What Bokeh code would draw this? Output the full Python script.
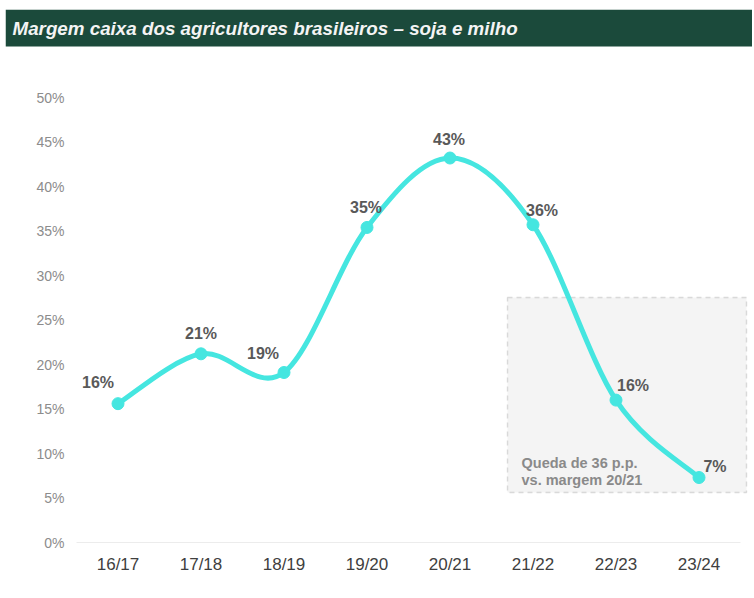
import numpy as np
from bokeh.plotting import figure
from bokeh.models import BoxAnnotation, Label, FixedTicker, Range1d
from bokeh.core.properties import value
from bokeh.embed import file_html
from bokeh.resources import INLINE

# ---------------- data ----------------
title_text = "Margem caixa dos agricultores brasileiros \u2013 soja e milho"
seasons = ["16/17", "17/18", "18/19", "19/20", "20/21", "21/22", "22/23", "23/24"]
margins = [15.6, 21.2, 19.1, 35.4, 43.2, 35.7, 16.0, 7.3]  # % cash margin
margin_labels = ["16%", "21%", "19%", "35%", "43%", "36%", "16%", "7%"]
y_ticks = [0, 5, 10, 15, 20, 25, 30, 35, 40, 45, 50]
y_tick_labels = ["0%", "5%", "10%", "15%", "20%", "25%", "30%", "35%", "40%", "45%", "50%"]
note_lines = ["Queda de 36 p.p.", "vs. margem 20/21"]

# ---------------- layout / styles ----------------
W, H = 752, 596
# the plotting area of the chart on the canvas (pixels)
CL, CR, CT, CB = 76, 740, 97, 542
# the frame covers the title bar as well
FL, FT = 5, 9
GREEN = "#1b4a3b"
CYAN = "#45e6e0"
SANS = "'Liberation Sans', Arial, sans-serif"

label_dx = [-20, 0, -21, -1, -1, 9, 17, 16]
label_dy = [-21, -20, -19, -20, -19, -14, -15, -11]

n = len(seasons)
x_lo, x_hi = -0.5, n - 0.5
y_lo, y_hi = 0.0, 50.0
ppx = (CR - CL) / (x_hi - x_lo)
ppy = (CB - CT) / (y_hi - y_lo)


def cx(px_):
    return x_lo + (px_ - CL) / ppx


def cy(py_):
    return y_lo + (CB - py_) / ppy


p = figure(width=W, height=H, toolbar_location=None, output_backend="svg",
           x_range=Range1d(cx(FL), cx(W)), y_range=Range1d(y_lo, cy(FT)),
           min_border_left=FL, min_border_right=0, min_border_top=FT,
           min_border_bottom=H - CB, outline_line_color=None,
           background_fill_color="white", border_fill_color="white")
p.grid.visible = False

# title bar
p.add_layout(BoxAnnotation(bottom=cy(46), fill_color=GREEN, fill_alpha=1.0,
                           line_color=None))
p.add_layout(Label(x=cx(12), y=cy(27.5), text=title_text, text_baseline="middle",
                   text_color="#f4f4f4", text_font=SANS,
                   text_font_style="bold italic", text_font_size="18.8px"))

xs = np.arange(n, dtype=float)
ys = np.array(margins, dtype=float)
px = np.concatenate([[xs[0]], xs, [xs[-1]]])
py = np.concatenate([[ys[0]], ys, [ys[-1]]])
k = 1.0 / 6.0
i = np.arange(n - 1)
x0, y0 = xs[:-1], ys[:-1]
x1, y1 = xs[1:], ys[1:]
cx0 = x0 + (px[i + 2] - px[i]) * k
cy0 = y0 + (py[i + 2] - py[i]) * k
cx1 = x1 - (px[i + 3] - px[i + 1]) * k
cy1 = y1 - (py[i + 3] - py[i + 1]) * k

# annotation box
p.add_layout(BoxAnnotation(left=cx(507), right=cx(746), bottom=cy(492), top=cy(297),
                           fill_color="#f4f4f4", fill_alpha=1.0,
                           line_color="#8f8f8f", line_width=1.4, line_dash="5 4",
                           level="underlay"))

# baseline (x axis line over the category extent)
p.segment(x0=[x_lo], y0=[y_lo], x1=[x_hi], y1=[y_lo], line_color="#d9d9d9",
          line_width=1)

p.bezier(x0=x0, y0=y0, x1=x1, y1=y1, cx0=cx0, cy0=cy0, cx1=cx1, cy1=cy1,
         line_color=CYAN, line_width=5, line_cap="round")
p.scatter(xs, ys, size=12, fill_color=CYAN, line_color=CYAN)
p.text(x=xs, y=ys, text=margin_labels, x_offset=label_dx, y_offset=label_dy,
       text_align="center", text_baseline="middle", text_color="#595959",
       text_font=value(SANS), text_font_style="bold", text_font_size="16px")

p.add_layout(Label(x=cx(521), y=cy(462), text=note_lines[0], text_baseline="middle",
                   text_color="#8a8a8a", text_font=SANS, text_font_style="bold",
                   text_font_size="14.5px"))
p.add_layout(Label(x=cx(521), y=cy(479), text=note_lines[1], text_baseline="middle",
                   text_color="#8a8a8a", text_font=SANS, text_font_style="bold",
                   text_font_size="14.5px"))

p.xaxis.ticker = FixedTicker(ticks=list(xs))
p.xaxis.major_label_overrides = {float(x): s for x, s in zip(xs, seasons)}
p.xaxis.major_tick_line_color = None
p.xaxis.minor_tick_line_color = None
p.xaxis.major_tick_out = 0
p.xaxis.major_tick_in = 0
p.xaxis.axis_line_color = None
p.xaxis.major_label_standoff = 12
p.xaxis.major_label_text_font = SANS
p.xaxis.major_label_text_font_size = "17px"
p.xaxis.major_label_text_color = "#404040"

p.yaxis.ticker = FixedTicker(ticks=y_ticks)
p.yaxis.major_label_overrides = {v: s for v, s in zip(y_ticks, y_tick_labels)}
p.yaxis.axis_line_color = None
p.yaxis.major_tick_line_color = None
p.yaxis.minor_tick_line_color = None
p.yaxis.major_tick_out = 0
p.yaxis.major_tick_in = 0
p.yaxis.major_label_standoff = -(64 - FL)
p.yaxis.major_label_text_font = SANS
p.yaxis.major_label_text_font_size = "14px"
p.yaxis.major_label_text_color = "#8c8c8c"

open("out.html", "w").write(file_html(p, INLINE))
